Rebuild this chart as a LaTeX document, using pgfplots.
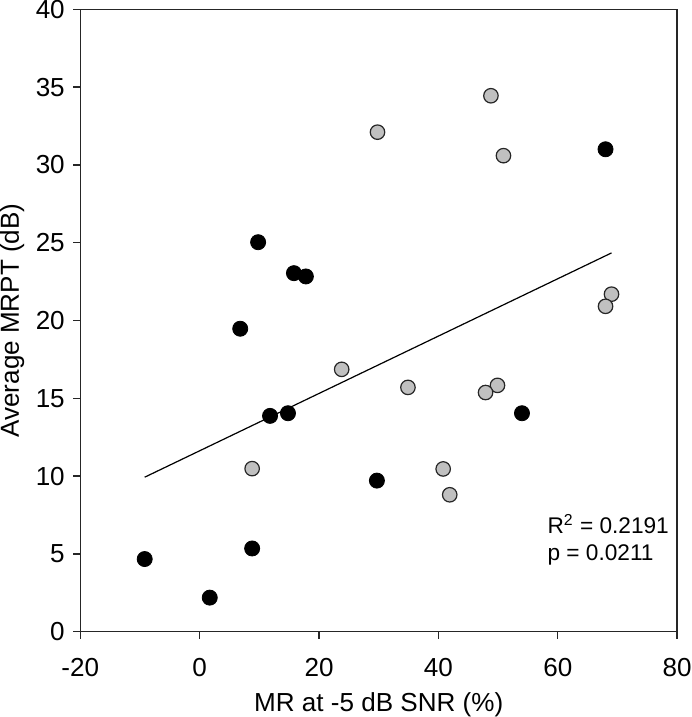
\documentclass[border=0pt]{standalone}
\usepackage{fontspec}
\setmainfont{Liberation Sans}
\usepackage{pgfplots}
\pgfplotsset{compat=1.18}
\definecolor{ptgrey}{HTML}{C0C0C0}

\begin{document}
\begin{tikzpicture}
\begin{axis}[
    scale only axis,
    width=296.7bp, height=309.4bp,
    xmin=-20, xmax=80, ymin=0, ymax=40,
    xtick={-20,0,20,40,60,80},
    ytick={0,5,10,15,20,25,30,35,40},
    tick align=outside, tick pos=left,
    major tick length=3.5bp,
    axis line style={line width=0.7bp, black!85},
    every tick/.style={line width=0.7bp, black!85},
    tick label style={font=\fontsize{13}{15.6}\selectfont, inner sep=0pt},
    label style={font=\fontsize{13}{15.6}\selectfont, inner sep=0pt},
    xticklabel shift=9.5bp,
    yticklabel shift=4bp,
    xlabel shift=7.75bp,
    ylabel shift=5.5bp,
    /pgf/number format/assume math mode=true,
    xlabel={MR at -5 dB SNR (\%)},
    ylabel={Average MRPT (dB)},
    clip=false,
]
% regression line
\addplot[black, line width=0.6bp, no marks] coordinates {(-9.2,9.93) (69.0,24.34)};
% black group
\addplot[only marks, mark=*, mark size=3.75bp, mark options={fill=black, draw=black}] coordinates {
    (-9.2,4.67) (1.7,2.19) (8.8,5.35) (11.8,13.87) (14.8,14.04)
    (29.7,9.71) (9.8,25.03) (15.8,23.04) (17.8,22.83) (6.8,19.47)
    (68.0,31.0) (54.0,14.04)
};
% grey group
\addplot[only marks, mark=*, mark size=3.6bp, mark options={fill=ptgrey, draw=black!85, line width=0.6bp}] coordinates {
    (8.8,10.48) (23.8,16.86) (29.8,32.1) (34.9,15.70) (48.8,34.44)
    (50.9,30.59) (69.0,21.69) (68.0,20.91) (49.9,15.83) (47.9,15.37)
    (40.8,10.46) (41.9,8.80)
};
\node[anchor=base west, font=\fontsize{11.3}{13.5}\selectfont] at (axis cs:57.1,6.32) {R\textsuperscript{2} = 0.2191};
\node[anchor=base west, font=\fontsize{11.3}{13.5}\selectfont] at (axis cs:57.1,4.56) {p = 0.0211};
\end{axis}
\end{tikzpicture}
\end{document}
